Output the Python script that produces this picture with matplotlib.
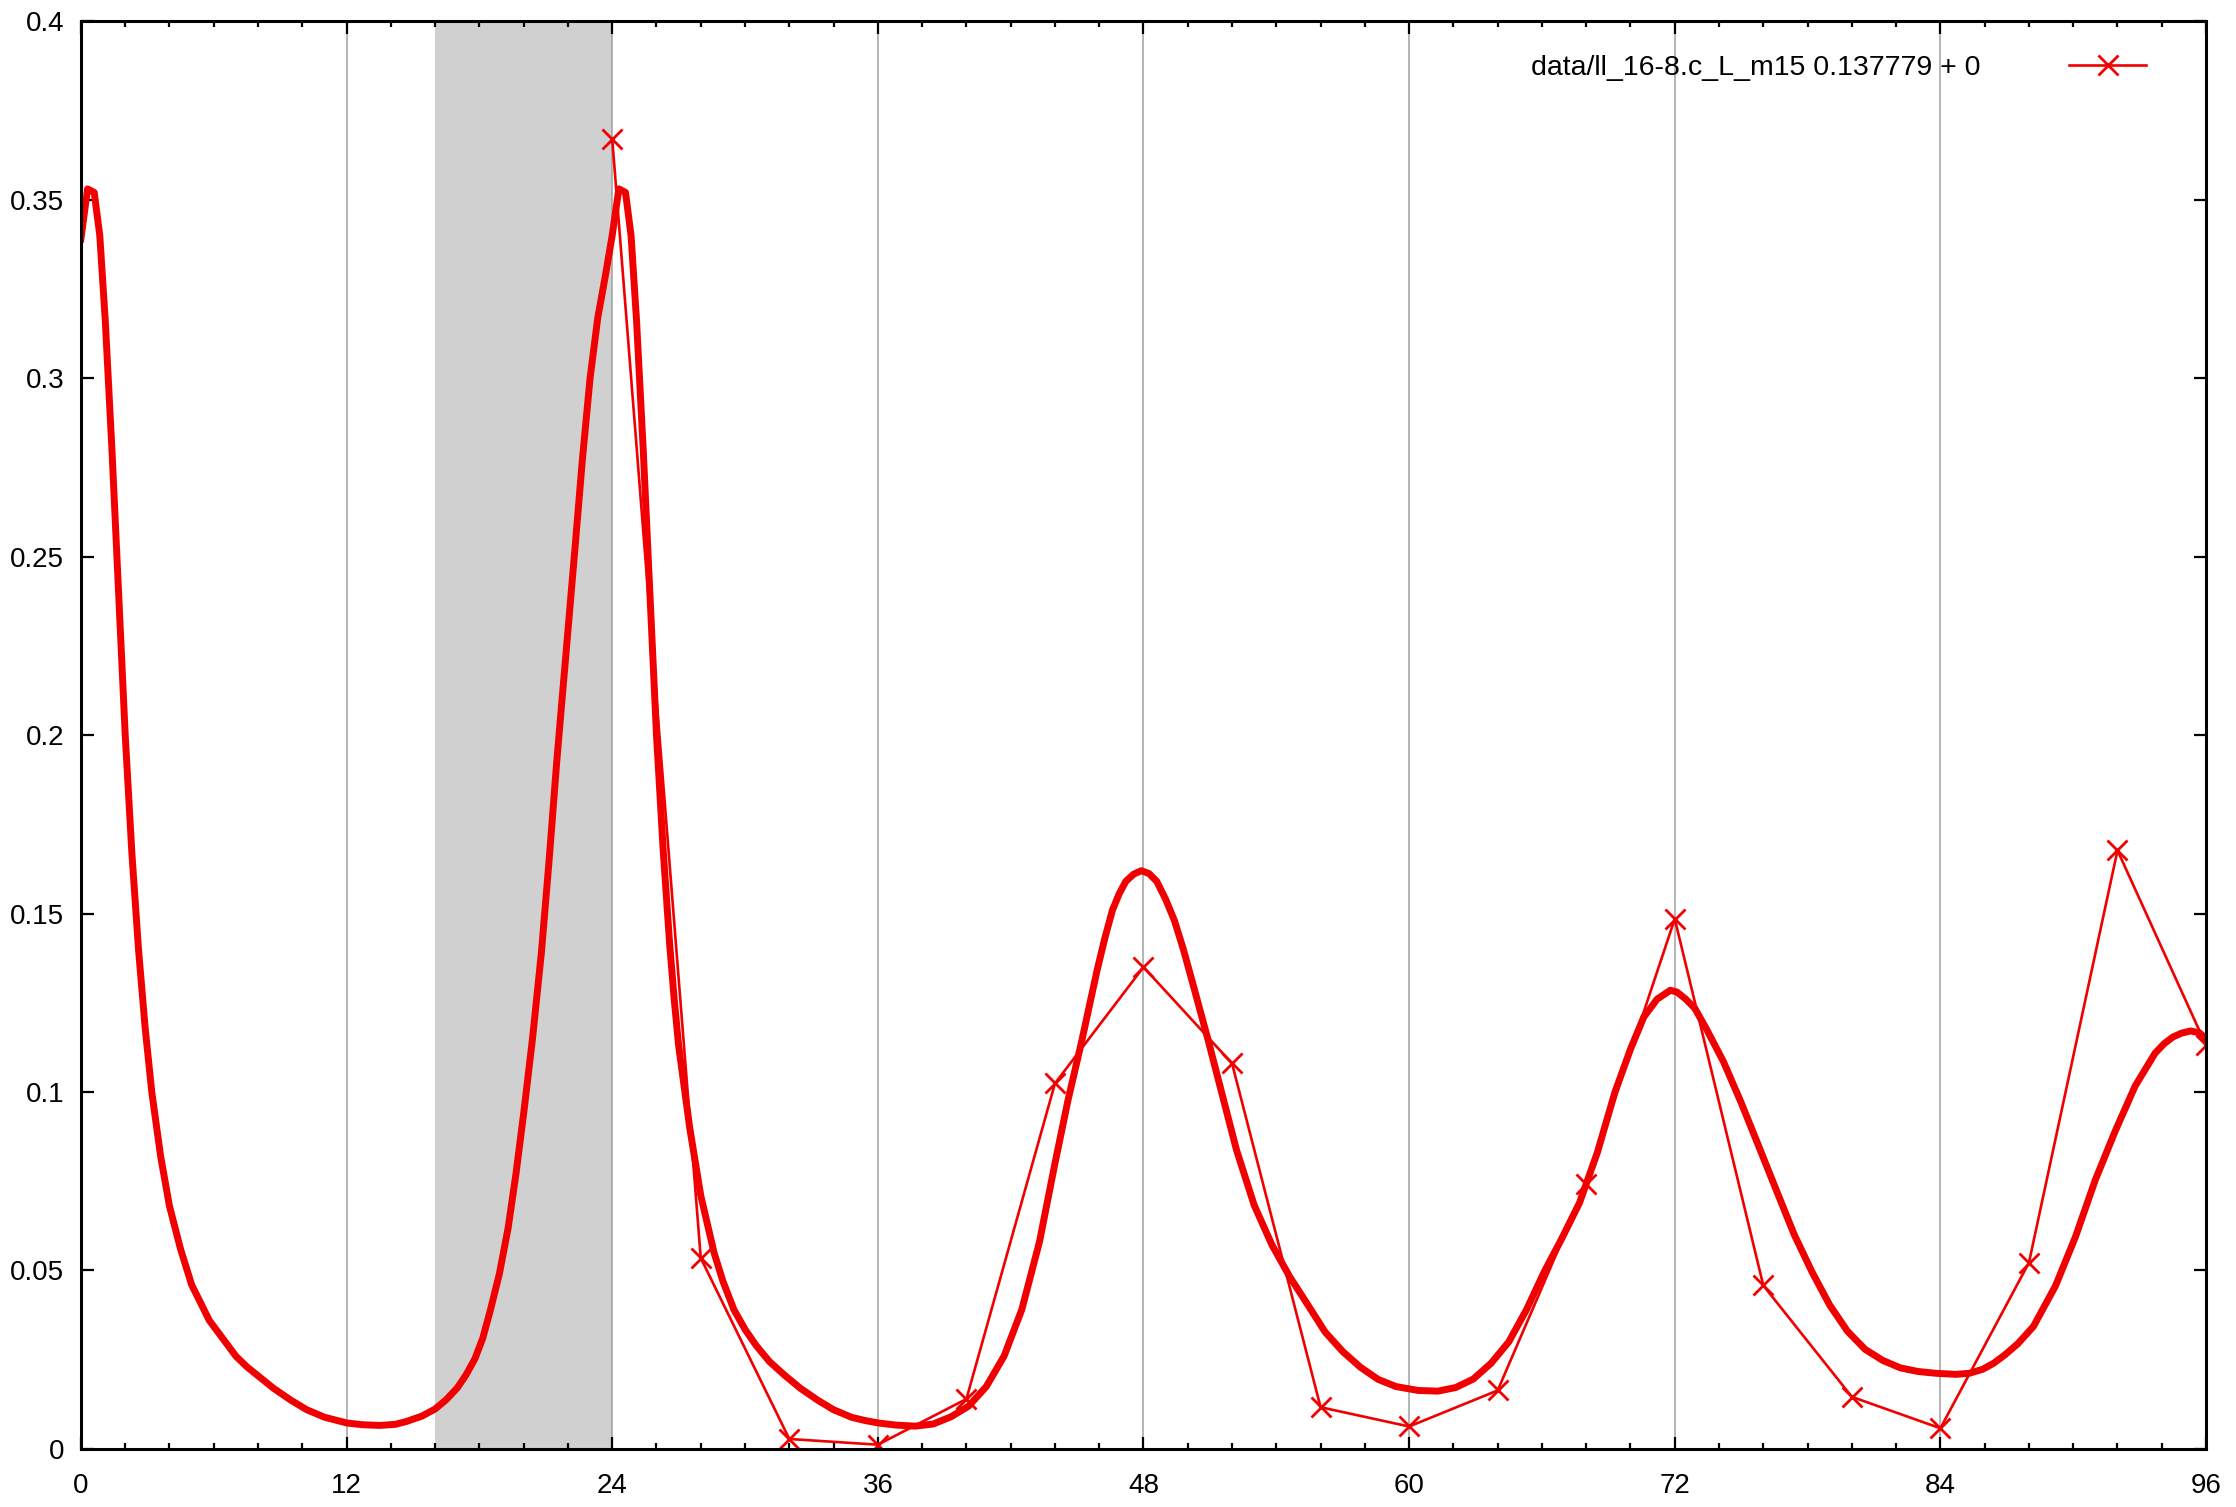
import matplotlib
matplotlib.use("Agg")
import matplotlib.pyplot as plt
from matplotlib.ticker import MultipleLocator

plt.rcParams['font.family'] = ['Liberation Sans', 'DejaVu Sans']

# ---- data ----
# measured series (every 4 h)
data_x = [24, 28, 32, 36, 40, 44, 48, 52, 56, 60, 64, 68, 72, 76, 80, 84, 88, 92, 96]
data_y = [0.367, 0.0535, 0.0028, 0.0012, 0.014, 0.1024, 0.135, 0.108, 0.0117, 0.0063,
          0.0164, 0.0741, 0.1485, 0.0458, 0.0146, 0.0058, 0.0522, 0.1677, 0.1131]
data_label = "data/ll_16-8.c_L_m15 0.137779 + 0"

# fitted model curve
fit_x = [0, 0.3, 0.6, 0.85, 1.1, 1.4, 1.7, 2.0, 2.3, 2.6, 2.9, 3.2, 3.6, 3.8, 4.0,
         4.25, 4.5, 4.75, 5.0, 5.4, 5.8, 6.4, 7.0, 7.5, 8.0, 8.7, 9.5, 10.2, 11.0,
         12.0, 12.7, 13.5, 14.2, 14.7, 15.4, 16.0, 16.5, 17.0, 17.4, 17.8, 18.15,
         18.5, 18.9, 19.3, 19.65, 20.0, 20.4, 20.8, 21.15, 21.5, 21.9, 22.3, 22.65,
         23.0, 23.35, 23.7, 24.0, 24.3, 24.6, 24.85, 25.1, 25.4, 25.7, 26.0, 26.3,
         26.6, 26.8, 27.0, 27.5, 28.0, 28.6, 29.0, 29.5, 30.0, 30.5, 31.1, 31.8,
         32.5, 33.3, 34.0, 34.8, 35.4, 36.0, 36.8, 37.7, 38.5, 39.3, 40.1, 40.9,
         41.7, 42.5, 43.3, 44.0, 44.6, 45.2, 45.9, 46.25, 46.6, 46.9, 47.2, 47.55,
         47.9, 48.25, 48.6, 49.0, 49.4, 49.8, 50.2, 50.9, 51.4, 52.2, 53.0, 53.8,
         54.6, 55.4, 56.2, 57.0, 57.8, 58.6, 59.4, 60.4, 61.3, 62.1, 62.9, 63.7,
         64.5, 65.3, 66.1, 66.9, 67.7, 68.5, 69.3, 70.0, 70.6, 71.2, 71.8, 72.1,
         72.5, 72.9, 73.4, 74.2, 75.0, 75.8, 76.6, 77.4, 78.2, 79.0, 79.8, 80.6,
         81.4, 82.2, 83.0, 83.8, 84.7, 85.3, 85.9, 86.4, 86.9, 87.5, 88.2, 88.7,
         89.2, 90.1, 91.0, 91.9, 92.8, 93.7, 94.1, 94.5, 94.9, 95.3, 95.7, 96.0]
fit_y = [0.339, 0.353, 0.352, 0.340, 0.316, 0.280, 0.240, 0.200, 0.167, 0.140,
         0.118, 0.100, 0.082, 0.075, 0.068, 0.062, 0.056, 0.051, 0.046, 0.041,
         0.036, 0.031, 0.026, 0.023, 0.0205, 0.017, 0.0136, 0.011, 0.0089, 0.0073,
         0.0068, 0.0066, 0.0069, 0.0077, 0.0092, 0.0112, 0.0138, 0.0171, 0.0208,
         0.0253, 0.031, 0.039, 0.049, 0.062, 0.077, 0.094, 0.115, 0.139, 0.165,
         0.193, 0.222, 0.251, 0.277, 0.300, 0.317, 0.329, 0.340, 0.353, 0.352,
         0.340, 0.316, 0.280, 0.240, 0.200, 0.168, 0.141, 0.126, 0.113, 0.090,
         0.071, 0.055, 0.047, 0.039, 0.0335, 0.029, 0.0245, 0.0206, 0.017, 0.0136,
         0.011, 0.0089, 0.008, 0.0073, 0.0067, 0.0064, 0.0070, 0.0090, 0.0120,
         0.0175, 0.026, 0.039, 0.058, 0.080, 0.098, 0.114, 0.134, 0.143, 0.151,
         0.1555, 0.159, 0.161, 0.162, 0.1612, 0.159, 0.154, 0.148, 0.140, 0.131,
         0.115, 0.103, 0.0838, 0.0683, 0.0572, 0.0483, 0.0406, 0.0328, 0.0273,
         0.0229, 0.0195, 0.0175, 0.0164, 0.0162, 0.0172, 0.0196, 0.024, 0.030,
         0.039, 0.0496, 0.059, 0.069, 0.083, 0.100, 0.112, 0.121, 0.126, 0.1285,
         0.128, 0.126, 0.1235, 0.118, 0.1085, 0.097, 0.0847, 0.0723, 0.060, 0.0496,
         0.0403, 0.033, 0.0279, 0.0248, 0.0227, 0.0217, 0.0212, 0.0209, 0.0212,
         0.0223, 0.024, 0.0263, 0.0295, 0.0343, 0.040, 0.0457, 0.0594, 0.0754,
         0.0891, 0.1017, 0.1109, 0.1135, 0.1154, 0.1165, 0.1171, 0.1166, 0.1149]

shade_span = [16, 24]
x_ticks = [0, 12, 24, 36, 48, 60, 72, 84, 96]
y_ticks = [0, 0.05, 0.1, 0.15, 0.2, 0.25, 0.3, 0.35, 0.4]
y_tick_labels = ["0", "0.05", "0.1", "0.15", "0.2", "0.25", "0.3", "0.35", "0.4"]

# ---- figure ----
fig = plt.figure(figsize=(22.36, 15.07), dpi=100)
ax = fig.add_axes([0.0362, 0.0385, 0.9504, 0.9475])

ax.axvspan(shade_span[0], shade_span[1], color='#d0d0d0', lw=0, zorder=0)
ax.grid(axis='x', which='major', color='#a0a0a0', lw=1.1, zorder=1)
ax.set_axisbelow(True)

ax.plot(fit_x, fit_y, color='#f00000', lw=5.0, solid_joinstyle='round', zorder=3)
ax.plot(data_x, data_y, color='#f00000', lw=1.9, marker='x', ms=14, mew=2.0,
        label=data_label, zorder=4)

ax.set_xlim(0, 96)
ax.set_ylim(0, 0.4)
ax.set_xticks(x_ticks)
ax.set_xticklabels([str(t) for t in x_ticks])
ax.xaxis.set_minor_locator(MultipleLocator(2))
ax.set_yticks(y_ticks)
ax.set_yticklabels(y_tick_labels)

ax.tick_params(which='both', direction='in', top=True, right=True, width=1.6,
               color='black')
ax.tick_params(which='major', length=9)
ax.tick_params(which='minor', length=4.5)
ax.tick_params(axis='x', which='major', labelsize=20, pad=17)
ax.tick_params(axis='y', which='major', labelsize=20, pad=12)
for s in ax.spines.values():
    s.set_linewidth(2.2)
    s.set_zorder(5)

leg = ax.legend(loc='center right', bbox_to_anchor=(0.9718, 0.967),
                frameon=False, markerfirst=False, fontsize=20.5,
                handlelength=2.7, handletextpad=3.1, borderaxespad=0,
                borderpad=0)

fig.savefig("out.png", dpi=100)
